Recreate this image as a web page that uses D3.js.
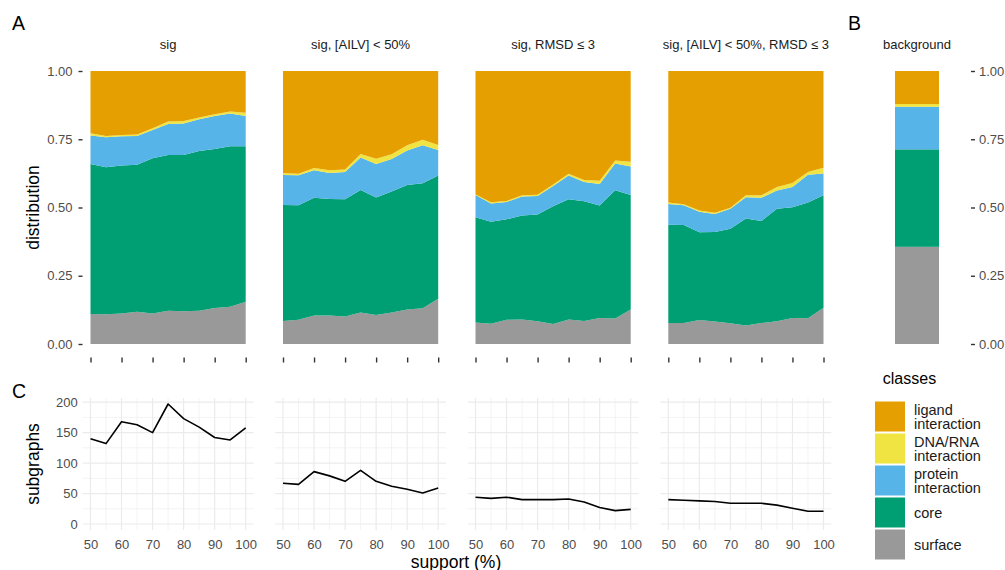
<!DOCTYPE html>
<html>
<head>
<meta charset="utf-8">
<script src="https://cdn.jsdelivr.net/npm/d3@7"></script>
<style>
  html, body { margin: 0; padding: 0; background: #fff; }
  svg { display: block; font-family: "Liberation Sans", Arial, Helvetica, sans-serif; }
</style>
</head>
<body>
<svg id="chart" width="1005" height="570"></svg>
<script>
// Support thresholds (%) shared by all facets
const supportLevels = [50, 55, 60, 65, 70, 75, 80, 85, 90, 95, 100];

// Facet titles
const facetLabels = ["sig", "sig, [AILV] < 50%", "sig, RMSD \u2264 3", "sig, [AILV] < 50%, RMSD \u2264 3"];

// Residue classes (stack order bottom -> top) and colours
const classKeys = ["surface", "core", "protein", "dna", "ligand"];
const classColors = {
  ligand: "#E69F00",
  dna: "#F0E442",
  protein: "#56B4E9",
  core: "#009E73",
  surface: "#999999"
};
// Legend entries (top -> bottom), labels wrapped on two lines where needed
const legendKeys = ["ligand", "dna", "protein", "core", "surface"];
const legendLabels = [["ligand", "interaction"], ["DNA/RNA", "interaction"], ["protein", "interaction"], ["core"], ["surface"]];

// Class shares per facet, one row per facet, one value per support level
const surfaceShare = [
  [0.110, 0.109, 0.112, 0.118, 0.112, 0.122, 0.120, 0.122, 0.132, 0.136, 0.155],
  [0.084, 0.089, 0.104, 0.104, 0.101, 0.115, 0.106, 0.115, 0.126, 0.131, 0.166],
  [0.079, 0.074, 0.089, 0.090, 0.083, 0.073, 0.090, 0.084, 0.095, 0.093, 0.126],
  [0.077, 0.077, 0.088, 0.082, 0.076, 0.068, 0.077, 0.083, 0.095, 0.094, 0.133]
];
const coreShare = [
  [0.549, 0.538, 0.542, 0.539, 0.568, 0.570, 0.572, 0.585, 0.582, 0.588, 0.569],
  [0.425, 0.419, 0.432, 0.427, 0.429, 0.449, 0.431, 0.444, 0.456, 0.458, 0.451],
  [0.385, 0.374, 0.368, 0.381, 0.391, 0.432, 0.440, 0.439, 0.412, 0.470, 0.420],
  [0.360, 0.359, 0.321, 0.328, 0.346, 0.392, 0.374, 0.412, 0.406, 0.424, 0.412]
];
const proteinShare = [
  [0.105, 0.110, 0.107, 0.105, 0.104, 0.114, 0.116, 0.116, 0.121, 0.120, 0.111],
  [0.110, 0.110, 0.100, 0.095, 0.100, 0.119, 0.122, 0.119, 0.127, 0.139, 0.094],
  [0.082, 0.067, 0.063, 0.069, 0.068, 0.074, 0.087, 0.070, 0.079, 0.098, 0.104],
  [0.076, 0.072, 0.075, 0.066, 0.073, 0.078, 0.085, 0.067, 0.074, 0.102, 0.080]
];
const dnaShare = [
  [0.008, 0.005, 0.005, 0.005, 0.006, 0.009, 0.009, 0.007, 0.007, 0.008, 0.012],
  [0.007, 0.006, 0.009, 0.010, 0.009, 0.013, 0.020, 0.017, 0.019, 0.020, 0.018],
  [0.002, 0.004, 0.004, 0.005, 0.005, 0.005, 0.007, 0.008, 0.012, 0.011, 0.018],
  [0.005, 0.004, 0.005, 0.005, 0.004, 0.007, 0.009, 0.013, 0.015, 0.010, 0.021]
];
const ligandShare = [
  [0.228, 0.238, 0.234, 0.233, 0.210, 0.185, 0.183, 0.170, 0.158, 0.148, 0.153],
  [0.374, 0.376, 0.355, 0.364, 0.361, 0.304, 0.321, 0.305, 0.272, 0.252, 0.271],
  [0.452, 0.481, 0.476, 0.455, 0.453, 0.416, 0.376, 0.399, 0.402, 0.328, 0.332],
  [0.482, 0.488, 0.511, 0.519, 0.501, 0.455, 0.455, 0.425, 0.410, 0.370, 0.354]
];

// Background composition (surface, core, protein, dna, ligand)
const backgroundShare = [0.356, 0.357, 0.156, 0.010, 0.121];

// Number of subgraphs per facet and support level
const subgraphCounts = [
  [140, 132, 168, 163, 150, 197, 173, 159, 142, 138, 158],
  [67, 65, 86, 79, 70, 88, 70, 62, 57, 51, 59],
  [44, 42, 44, 40, 40, 40, 41, 36, 27, 22, 24],
  [40, 39, 38, 37, 34, 34, 34, 31, 26, 21, 21]
];

// Axis breaks
const shareTicks = [0, 0.25, 0.5, 0.75, 1];
const supportTicks = [50, 60, 70, 80, 90, 100];
const supportMinor = [55, 65, 75, 85, 95];
const countTicks = [0, 50, 100, 150, 200];
const countMinor = [25, 75, 125, 175];

// ---------------- layout ----------------
const svg = d3.select("#chart");
const panelLeft = [90.5, 283, 475.5, 668.3];
const panelW = 155.2;
const topY = d3.scaleLinear().domain([0, 1]).range([344, 71]);
const axisGrey = "#4d4d4d";
const tickFont = 13;
const titleFont = 17.5;
const stripFont = 13;

// Panel tags
[["A", 12, 30], ["B", 848, 30], ["C", 12, 398]].forEach(([t, x, y]) => {
  svg.append("text").attr("x", x).attr("y", y).attr("font-size", 19.5).attr("fill", "#000").text(t);
});

// ---------------- panel A: stacked areas ----------------
const stackGen = d3.stack().keys(classKeys);

facetLabels.forEach((label, f) => {
  const x = d3.scaleLinear().domain([50, 100]).range([panelLeft[f], panelLeft[f] + panelW]);
  const rows = supportLevels.map((s, i) => ({
    support: s,
    surface: surfaceShare[f][i],
    core: coreShare[f][i],
    protein: proteinShare[f][i],
    dna: dnaShare[f][i],
    ligand: ligandShare[f][i]
  }));
  const series = stackGen(rows);
  const area = d3.area()
    .x(d => x(d.data.support))
    .y0(d => topY(d[0]))
    .y1(d => topY(d[1]));
  const g = svg.append("g");
  g.selectAll("path").data(series).join("path")
    .attr("d", area)
    .attr("fill", d => classColors[d.key]);

  // strip title
  svg.append("text")
    .attr("x", panelLeft[f] + panelW / 2).attr("y", 48.5)
    .attr("text-anchor", "middle").attr("font-size", stripFont).attr("fill", "#1a1a1a")
    .text(label);

  // bottom ticks without labels
  const ax = d3.axisBottom(x).tickValues(supportTicks).tickSize(5).tickSizeOuter(0).tickFormat("");
  const axG = svg.append("g").attr("transform", "translate(0,357.5)").call(ax);
  axG.select(".domain").remove();
  axG.selectAll(".tick line").attr("stroke", "#333").attr("stroke-width", 1.4);
});

// left share axis
{
  const ay = d3.axisLeft(topY).tickValues(shareTicks).tickFormat(d3.format(".2f")).tickSize(4).tickPadding(6);
  const g = svg.append("g").attr("transform", "translate(82.5,0)").call(ay);
  g.select(".domain").remove();
  g.selectAll(".tick line").attr("stroke", "#333").attr("stroke-width", 1.4);
  g.selectAll(".tick text").attr("fill", axisGrey).attr("font-size", tickFont).attr("font-family", null);
  svg.append("text")
    .attr("transform", "translate(39,207.5) rotate(-90)")
    .attr("text-anchor", "middle").attr("font-size", titleFont).attr("fill", "#000")
    .text("distribution");
}

// ---------------- panel B: background bar ----------------
{
  const bx = d3.scaleBand().domain(["background"]).range([873, 961]).paddingInner(0.5).paddingOuter(0.25);
  const bgRow = { key: "background" };
  classKeys.forEach((k, i) => { bgRow[k] = backgroundShare[i]; });
  const series = stackGen([bgRow]);
  svg.append("g").selectAll("rect").data(series).join("rect")
    .attr("x", bx("background"))
    .attr("width", bx.bandwidth())
    .attr("y", d => topY(d[0][1]))
    .attr("height", d => topY(d[0][0]) - topY(d[0][1]))
    .attr("fill", d => classColors[d.key]);
  svg.append("text")
    .attr("x", bx("background") + bx.bandwidth() / 2).attr("y", 48.5)
    .attr("text-anchor", "middle").attr("font-size", stripFont).attr("fill", "#1a1a1a")
    .text("background");

  const ay = d3.axisRight(topY).tickValues(shareTicks).tickFormat(d3.format(".2f")).tickSize(4).tickPadding(4);
  const g = svg.append("g").attr("transform", "translate(971,0)").call(ay);
  g.select(".domain").remove();
  g.selectAll(".tick line").attr("stroke", "#333").attr("stroke-width", 1.4);
  g.selectAll(".tick text").attr("fill", axisGrey).attr("font-size", tickFont).attr("font-family", null);
}

// ---------------- panel C: subgraph counts ----------------
const countY = d3.scaleLinear().domain([-9.85, 206.85]).range([530, 398]);

facetLabels.forEach((label, f) => {
  const x = d3.scaleLinear().domain([47.5, 102.5])
    .range([panelLeft[f] - panelW * 0.05, panelLeft[f] + panelW * 1.05]);
  const [x0, x1] = x.range();
  const [yb, yt] = countY.range();
  const g = svg.append("g");

  // minor grid
  g.selectAll("line.vminor").data(supportMinor).join("line")
    .attr("x1", d => x(d)).attr("x2", d => x(d)).attr("y1", yb).attr("y2", yt)
    .attr("stroke", "#ebebeb").attr("stroke-width", 0.6);
  g.selectAll("line.hminor").data(countMinor).join("line")
    .attr("x1", x0).attr("x2", x1).attr("y1", d => countY(d)).attr("y2", d => countY(d))
    .attr("stroke", "#ebebeb").attr("stroke-width", 0.6);
  // major grid
  g.selectAll("line.vmajor").data(supportTicks).join("line")
    .attr("x1", d => x(d)).attr("x2", d => x(d)).attr("y1", yb).attr("y2", yt)
    .attr("stroke", "#ebebeb").attr("stroke-width", 1.2);
  g.selectAll("line.hmajor").data(countTicks).join("line")
    .attr("x1", x0).attr("x2", x1).attr("y1", d => countY(d)).attr("y2", d => countY(d))
    .attr("stroke", "#ebebeb").attr("stroke-width", 1.2);

  // count line
  const line = d3.line().x((d, i) => x(supportLevels[i])).y(d => countY(d));
  g.append("path").datum(subgraphCounts[f])
    .attr("d", line).attr("fill", "none").attr("stroke", "#000").attr("stroke-width", 1.6)
    .attr("stroke-linejoin", "round");

  // x tick labels
  const ax = d3.axisBottom(x).tickValues(supportTicks).tickSize(0).tickPadding(10);
  const axG = svg.append("g").attr("transform", `translate(0,${yb})`).call(ax);
  axG.select(".domain").remove();
  axG.selectAll(".tick text").attr("fill", axisGrey).attr("font-size", tickFont).attr("font-family", null);
});

{
  const ay = d3.axisLeft(countY).tickValues(countTicks).tickSize(0).tickPadding(5);
  const g = svg.append("g").attr("transform", `translate(${panelLeft[0] - panelW * 0.05},0)`).call(ay);
  g.select(".domain").remove();
  g.selectAll(".tick text").attr("fill", axisGrey).attr("font-size", tickFont).attr("font-family", null);
  svg.append("text")
    .attr("transform", "translate(39,464) rotate(-90)")
    .attr("text-anchor", "middle").attr("font-size", titleFont).attr("fill", "#000")
    .text("subgraphs");
  svg.append("text")
    .attr("x", 456).attr("y", 567.5)
    .attr("text-anchor", "middle").attr("font-size", titleFont).attr("fill", "#000")
    .text("support (%)");
}

// ---------------- legend ----------------
{
  const lg = svg.append("g").attr("transform", "translate(875,0)");
  lg.append("text").attr("x", 34.5).attr("y", 384).attr("text-anchor", "middle")
    .attr("font-size", 16).attr("fill", "#000").text("classes");
  const keyTop = 401.5, keyStep = 32, keySize = 30;
  legendKeys.forEach((k, i) => {
    const y = keyTop + i * keyStep;
    lg.append("rect").attr("x", 0).attr("y", y).attr("width", keySize).attr("height", keySize)
      .attr("fill", classColors[k]);
    const lines = legendLabels[i];
    const t = lg.append("text").attr("font-size", 14.5).attr("fill", "#1a1a1a");
    const lh = 14;
    const firstBase = y + keySize / 2 + 5 - (lines.length - 1) * lh / 2;
    lines.forEach((s, j) => {
      t.append("tspan").attr("x", 39).attr("y", firstBase + j * lh).text(s);
    });
  });
}
</script>
</body>
</html>
